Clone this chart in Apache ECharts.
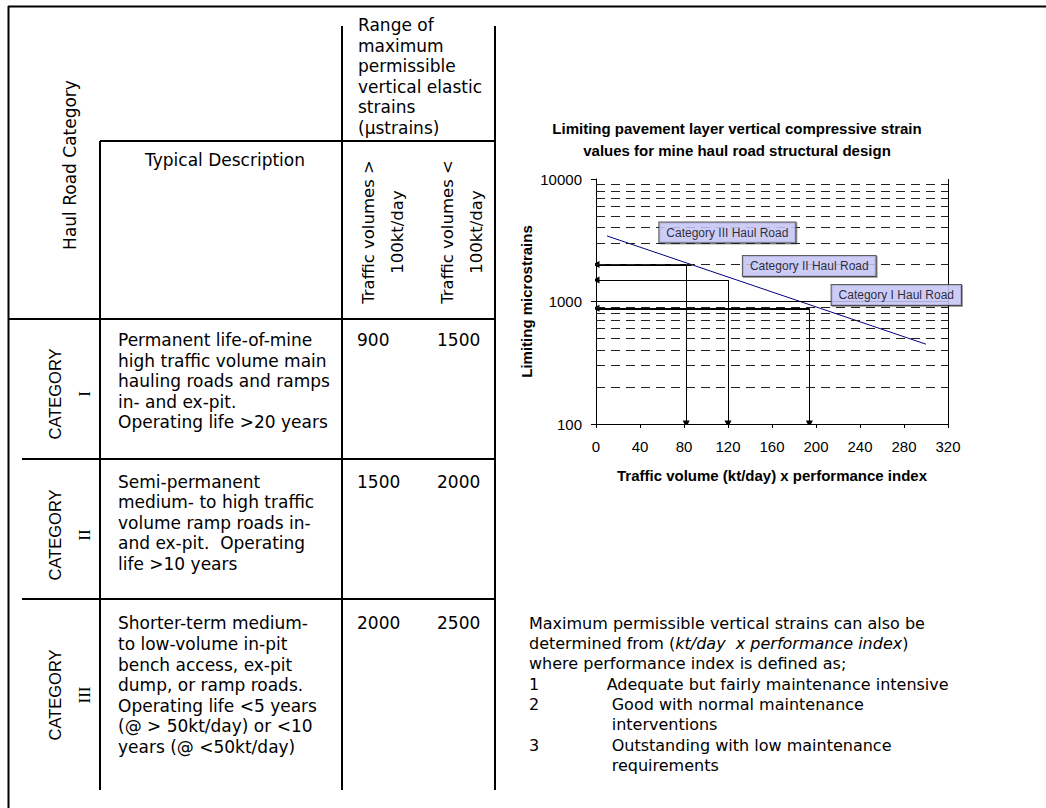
<!DOCTYPE html>
<html><head><meta charset="utf-8">
<script src="https://cdn.jsdelivr.net/npm/echarts@6/dist/echarts.min.js"></script>
<style>html,body{margin:0;padding:0;background:#fff}#c{width:1046px;height:808px}</style>
</head><body><div id="c"></div>
<script>
// ---------- Table data ----------
const categoryNames = ['CATEGORY', 'CATEGORY', 'CATEGORY'];
const categoryNumerals = ['I', 'II', 'III'];
const descriptions = [
  'Permanent life-of-mine\nhigh traffic volume main\nhauling roads and ramps\nin- and ex-pit.\nOperating life >20 years',
  'Semi-permanent\nmedium- to high traffic\nvolume ramp roads in-\nand ex-pit.  Operating\nlife >10 years',
  'Shorter-term medium-\nto low-volume in-pit\nbench access, ex-pit\ndump, or ramp roads.\nOperating life <5 years\n(@ > 50kt/day) or <10\nyears (@ <50kt/day)'
];
const strainAbove100kt = [900, 1500, 2000];
const strainBelow100kt = [1500, 2000, 2500];

// ---------- Chart data ----------
const xTickMin = 0, xTickMax = 320, xTickStep = 40;
const yLogMin = 100, yLogMax = 10000;
const limitLineX = [10, 300];
const limitLineY = [3430, 448];
const arrowY = [2000, 1500, 880];
const arrowStartX = [87, 120, 194];
const arrowDropX = [82, 120, 194];
const minorGridValues = [200, 300, 400, 500, 600, 700, 800, 900, 2000, 3000, 4000, 5000, 6000, 7000, 8000, 9000];
const majorGridValues = [1000];
const roadLabels = ['Category III Haul Road', 'Category II Haul Road', 'Category I Haul Road'];
const roadLabelX = [119.4, 193.9, 273];
const roadLabelY = [3657, 1949, 1130];

// ---------- Layout / styles ----------
const TF = 'DejaVu Sans';
const CF = 'Liberation Sans';
const rowFirstLine = [340, 481.7, 623.3];
const catCenterY = [394, 535, 695];
const LH = 20.6;

const graphics = [];
function line(x1, y1, x2, y2, w) {
  graphics.push({type: 'line', silent: true, shape: {x1, y1, x2, y2}, style: {stroke: '#000', lineWidth: w || 2}});
}
function text(x, y, t, opts) {
  graphics.push({type: 'text', silent: true, x, y, rotation: (opts && opts.rotation) || 0,
    style: Object.assign({text: t, fill: '#000', fontFamily: TF, fontSize: 17, align: 'left', verticalAlign: 'top'}, opts && opts.style)});
}
// borders and grid of table
line(8, 6.5, 1046, 6.5, 2);
line(8.5, 6, 8.5, 808, 2);
line(100, 141, 100, 790);
line(342, 26, 342, 790);
line(495, 26, 495, 790);
line(100, 141, 495, 141);
line(8, 319, 495, 319);
line(22, 459, 495, 459);
line(22, 599, 495, 599);

// headers
text(358, 25 - LH / 2, 'Range of\nmaximum\npermissible\nvertical elastic\nstrains\n(µstrains)', {style: {lineHeight: LH}});
text(225, 160, 'Typical Description', {style: {align: 'center', verticalAlign: 'middle'}});
text(70, 165, 'Haul Road Category', {rotation: Math.PI / 2, style: {align: 'center', verticalAlign: 'middle'}});
text(382.5, 232, 'Traffic volumes >\n100kt/day', {rotation: Math.PI / 2, style: {align: 'center', verticalAlign: 'middle', lineHeight: 29, fontSize: 16.5}});
text(461.5, 232, 'Traffic volumes <\n100kt/day', {rotation: Math.PI / 2, style: {align: 'center', verticalAlign: 'middle', lineHeight: 29, fontSize: 16.5}});

// rows
for (let i = 0; i < descriptions.length; i++) {
  text(69.5, catCenterY[i], '{a|' + categoryNames[i] + '}\n{b|' + categoryNumerals[i] + '}', {
    rotation: Math.PI / 2,
    style: {align: 'center', verticalAlign: 'middle',
      rich: {a: {fontFamily: CF, fontSize: 16.5, lineHeight: 29, align: 'center'},
             b: {fontFamily: 'Liberation Serif', fontSize: 17, lineHeight: 29, align: 'center'}}}
  });
  text(118, rowFirstLine[i] - LH / 2, descriptions[i], {style: {lineHeight: LH}});
  text(357, rowFirstLine[i] - LH / 2, String(strainAbove100kt[i]), {style: {lineHeight: LH}});
  text(437, rowFirstLine[i] - LH / 2, String(strainBelow100kt[i]), {style: {lineHeight: LH}});
}

// right-hand notes
const NLH = 20.3, N0 = 623.3 - NLH / 2;
text(529, N0, 'Maximum permissible vertical strains can also be\n{n|determined from (}{i|kt/day  x performance index}{n|)}\nwhere performance index is defined as;', {
  style: {fontSize: 16, lineHeight: NLH, rich: {n: {fontFamily: TF, fontSize: 16, lineHeight: NLH}, i: {fontFamily: TF, fontSize: 16, fontStyle: 'italic', lineHeight: NLH}}}
});
text(529, N0 + 3 * NLH, '1\n2\n\n3', {style: {fontSize: 16, lineHeight: NLH}});
text(606.7, N0 + 3 * NLH, 'Adequate but fairly maintenance intensive', {style: {fontSize: 16, lineHeight: NLH}});
text(611.7, N0 + 4 * NLH, 'Good with normal maintenance\ninterventions\nOutstanding with low maintenance\nrequirements', {style: {fontSize: 16, lineHeight: NLH}});

// chart title
text(737, 128 - 11, 'Limiting pavement layer vertical compressive strain\nvalues for mine haul road structural design', {
  style: {fontFamily: CF, fontSize: 15, fontWeight: 'bold', align: 'center', lineHeight: 22}
});

// ---------- chart series ----------
const gridMarks = minorGridValues.map(v => ({yAxis: v, lineStyle: {type: [9, 6], color: '#222', width: 1}}))
  .concat(majorGridValues.map(v => ({yAxis: v, lineStyle: {type: 'solid', color: '#000', width: 1}})))
  .concat([{xAxis: xTickMax, lineStyle: {type: 'solid', color: '#000', width: 1}}]);

const arrowData = [];
for (let i = 0; i < arrowY.length; i++) {
  arrowData.push({coords: [[arrowStartX[i], arrowY[i]], [xTickMin, arrowY[i]]], lineStyle: {width: i === 1 ? 1 : 2}});
  arrowData.push({coords: [[arrowDropX[i], arrowY[i]], [arrowDropX[i], yLogMin]], lineStyle: {width: 1}});
}

const option = {
  animation: false,
  backgroundColor: '#fff',
  graphic: graphics,
  grid: {left: 596, top: 179, width: 352, height: 245},
  xAxis: {
    type: 'value', min: xTickMin, max: xTickMax, interval: xTickStep,
    axisLine: {lineStyle: {color: '#000', width: 1}},
    axisTick: {show: true, inside: false, length: 4, lineStyle: {color: '#000'}},
    axisLabel: {color: '#000', fontFamily: CF, fontSize: 15, margin: 15},
    splitLine: {show: false},
    name: 'Traffic volume (kt/day) x performance index',
    nameLocation: 'middle', nameGap: 44,
    nameTextStyle: {color: '#000', fontFamily: CF, fontSize: 15, fontWeight: 'bold'}
  },
  yAxis: {
    type: 'log', logBase: 10, min: yLogMin, max: yLogMax,
    axisLine: {show: true, lineStyle: {color: '#000', width: 1}},
    axisTick: {show: true, inside: false, length: 5, lineStyle: {color: '#000'}},
    axisLabel: {color: '#000', fontFamily: CF, fontSize: 15, margin: 14, formatter: v => String(Math.round(v))},
    splitLine: {show: false},
    minorTick: {show: false},
    name: 'Limiting microstrains',
    nameLocation: 'middle', nameGap: 62, nameRotate: 90,
    nameTextStyle: {color: '#000', fontFamily: CF, fontSize: 15, fontWeight: 'bold'}
  },
  series: [
    {
      type: 'line', name: 'grid', data: [], silent: true,
      markLine: {silent: true, symbol: ['none', 'none'], label: {show: false}, animation: false, data: gridMarks}
    },
    {
      type: 'line', name: 'Limiting strain', silent: true,
      data: limitLineX.map((x, i) => [x, limitLineY[i]]),
      showSymbol: false, symbol: 'none',
      lineStyle: {color: '#000080', width: 1}, z: 3
    },
    {
      type: 'lines', coordinateSystem: 'cartesian2d', silent: true, polyline: false,
      symbol: ['none', 'triangle'], symbolSize: 7,
      lineStyle: {color: '#000', width: 1, opacity: 1, curveness: 0},
      data: arrowData, z: 4
    },
    {
      type: 'scatter', silent: true, symbol: 'rect', symbolSize: 1,
      itemStyle: {color: 'rgba(0,0,0,0)'},
      data: roadLabels.map((n, i) => [roadLabelX[i], roadLabelY[i], n]),
      label: {
        show: true, position: 'inside', formatter: p => p.data[2],
        color: '#000', fontFamily: CF, fontSize: 12,
        backgroundColor: '#ccccff', borderColor: '#333', borderWidth: 1,
        padding: [4, 7, 4, 7],
        shadowColor: 'rgba(0,0,0,0.45)', shadowOffsetX: 1, shadowOffsetY: 1, shadowBlur: 0
      },
      z: 5
    }
  ]
};
const chart = echarts.init(document.getElementById('c'), null, {renderer: 'svg'});
chart.setOption(option);
</script>
</body></html>
